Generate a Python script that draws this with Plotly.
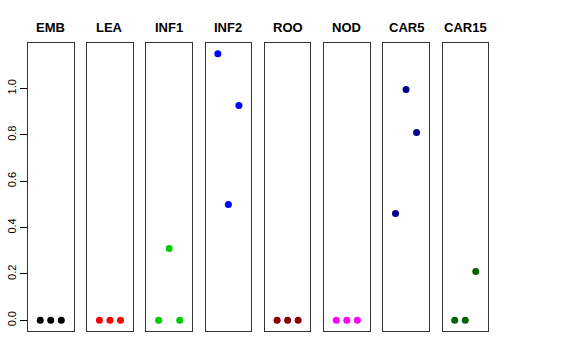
import plotly.graph_objects as go

panels = ["EMB", "LEA", "INF1", "INF2", "ROO", "NOD", "CAR5", "CAR15"]
positions = [1, 2, 3]
values = {
    "EMB": [0, 0, 0],
    "LEA": [0, 0, 0],
    "INF1": [0, 0.31, 0],
    "INF2": [1.15, 0.50, 0.927],
    "ROO": [0, 0, 0],
    "NOD": [0, 0, 0],
    "CAR5": [0.461, 0.996, 0.81],
    "CAR15": [0, 0, 0.211],
}
colors = ["#000000", "#FF0000", "#00CD00", "#0000FF", "#8B0000", "#FF00FF", "#00008B", "#006400"]
y_ticks = [0.0, 0.2, 0.4, 0.6, 0.8, 1.0]
y_tick_text = ["0.0", "0.2", "0.4", "0.6", "0.8", "1.0"]

W, H = 576, 360
ml, mr, mt, mb = 28, 88, 43, 29
plot_w = W - ml - mr
box_w = 45.5
period = (plot_w - box_w) / 7

ymax = max(max(v) for v in values.values())
yr = [-0.04 * ymax, 1.04 * ymax]
xr = [-0.16, 4.16]

fig = go.Figure()
font = "Liberation Sans, Arial, sans-serif"
for i, (name, col) in enumerate(zip(panels, colors)):
    xa = "x" if i == 0 else f"x{i+1}"
    ya = "y" if i == 0 else f"y{i+1}"
    fig.add_trace(go.Scatter(
        x=positions, y=values[name], mode="markers",
        marker=dict(color=col, size=7, line=dict(width=0)),
        xaxis=xa, yaxis=ya, showlegend=False, hoverinfo="skip",
    ))
    d0 = i * period / plot_w
    d1 = (i * period + box_w) / plot_w
    xkey = "xaxis" if i == 0 else f"xaxis{i+1}"
    ykey = "yaxis" if i == 0 else f"yaxis{i+1}"
    fig.layout[xkey] = dict(domain=[d0, d1], range=xr, showgrid=False, zeroline=False,
                            showticklabels=False, ticks="", showline=True, mirror=True,
                            linecolor="#333333", linewidth=1, anchor=ya, automargin=False)
    yd = dict(domain=[0, 1], range=yr, showgrid=False, zeroline=False,
              showline=True, mirror=True, linecolor="#333333", linewidth=1,
              anchor=xa, automargin=False)
    if i == 0:
        yd.update(tickmode="array", tickvals=y_ticks, ticktext=y_tick_text,
                  ticks="outside", ticklen=7, tickcolor="#000000", tickangle=-90,
                  tickfont=dict(family=font, size=11, color="#000000"))
    else:
        yd.update(showticklabels=False, ticks="")
    fig.layout[ykey] = yd
    fig.add_annotation(x=(d0 + d1) / 2, y=1.0, xref="paper", yref="paper",
                       text=f"<b>{name}</b>", showarrow=False, yanchor="bottom",
                       xanchor="center", yshift=6,
                       font=dict(family=font, size=13, color="#000000"))

fig.update_layout(width=W, height=H, margin=dict(l=ml, r=mr, t=mt, b=mb, autoexpand=False),
                  plot_bgcolor="white", paper_bgcolor="white")
fig.write_html("out.html", config={"displayModeBar": False},
               post_script="document.body.style.margin='0';")
